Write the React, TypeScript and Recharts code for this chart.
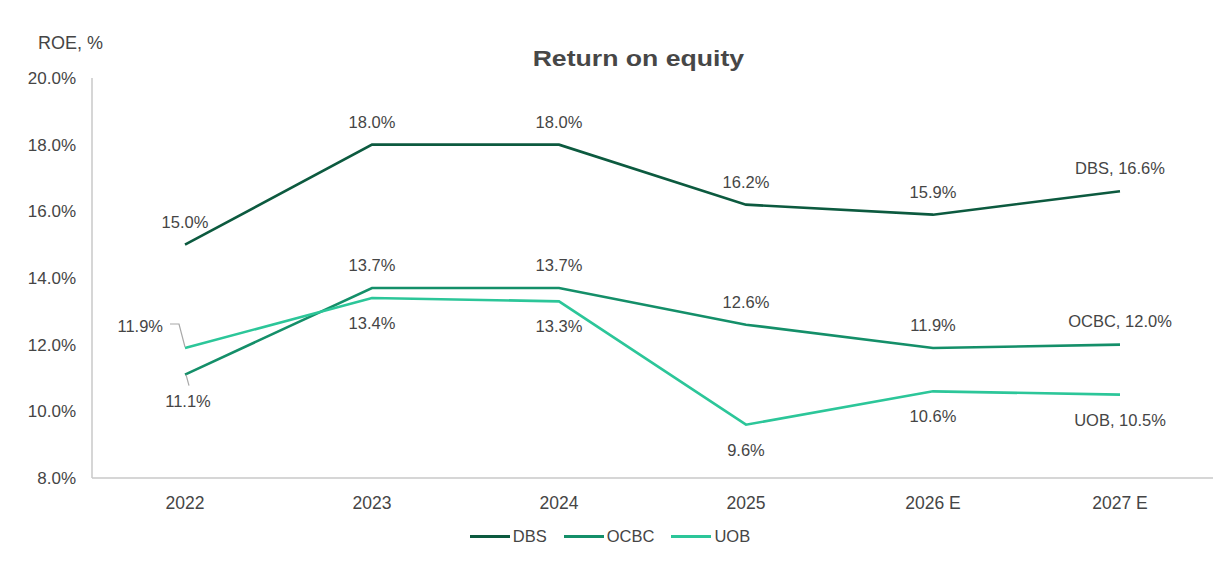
import React from 'react';
import { LineChart, Line, XAxis, YAxis, LabelList } from 'recharts';

const categories = ['2022', '2023', '2024', '2025', '2026 E', '2027 E'];
const dbsValues = [15.0, 18.0, 18.0, 16.2, 15.9, 16.6];
const ocbcValues = [11.1, 13.7, 13.7, 12.6, 11.9, 12.0];
const uobValues = [11.9, 13.4, 13.3, 9.6, 10.6, 10.5];
const yTicks = [8, 10, 12, 14, 16, 18, 20];
const seriesNames = ['DBS', 'OCBC', 'UOB'];

const data = categories.map((c, i) => ({
  year: c,
  DBS: dbsValues[i],
  OCBC: ocbcValues[i],
  UOB: uobValues[i],
}));

const COLORS: Record<string, string> = {
  DBS: '#0c5a3f',
  OCBC: '#148f69',
  UOB: '#2cc699',
};
const FONT = '"Liberation Sans", Arial, Helvetica, sans-serif';
const TEXT = '#454545';
const AXIS = '#c8c8c8';

type Placement = {
  dx: number;
  dy: number;
  anchor?: 'start' | 'middle' | 'end';
  leader?: [number, number][];
};

const above: Placement = { dx: 0, dy: -23 };
const below: Placement = { dx: 0, dy: 25 };

const placements: Record<string, Placement[]> = {
  DBS: [above, above, above, above, above, above],
  OCBC: [
    { dx: 3, dy: 26, leader: [[1, 0], [4, 11]] },
    above,
    above,
    above,
    above,
    { dx: 0, dy: -24 },
  ],
  UOB: [
    { dx: -22, dy: -22, anchor: 'end', leader: [[0, -1], [-6, -24], [-15, -24]] },
    below,
    below,
    below,
    below,
    below,
  ],
};

const makeLabel = (name: string) => (props: any) => {
  const { value, index } = props;
  const x = props.x ?? props.viewBox?.x;
  const y = props.y ?? props.viewBox?.y;
  if (x == null || y == null || value == null) return null;
  const p = placements[name][index];
  const last = index === categories.length - 1;
  const txt = last ? `${name}, ${Number(value).toFixed(1)}%` : `${Number(value).toFixed(1)}%`;
  return (
    <g>
      {p.leader && (
        <polyline
          points={p.leader.map(([a, b]) => `${x + a},${y + b}`).join(' ')}
          fill="none"
          stroke="#a8a8a8"
          strokeWidth={1.2}
        />
      )}
      <text
        x={x + p.dx}
        y={y + p.dy}
        textAnchor={p.anchor ?? 'middle'}
        dominantBaseline="central"
        fontFamily={FONT}
        fontSize={16.5}
        fill={TEXT}
      >
        {txt}
      </text>
    </g>
  );
};

export default function App() {
  return (
    <div style={{ position: 'absolute', left: 0, top: 0, width: 1218, height: 568, background: '#fff', fontFamily: FONT }}>
      <LineChart
        width={1218}
        height={568}
        data={data}
        margin={{ top: 78, right: 5, bottom: 60, left: 32 }}
      >
        <XAxis
          dataKey="year"
          padding={{ left: 93, right: 93 }}
          tickLine={false}
          tickSize={0}
          tickMargin={19}
          axisLine={{ stroke: AXIS, strokeWidth: 1.5 }}
          tick={{ fontFamily: FONT, fontSize: 17.5, fill: TEXT }}
          interval={0}
        />
        <YAxis
          width={60}
          domain={[8, 20]}
          ticks={yTicks}
          type="number"
          allowDataOverflow
          tickFormatter={(v: number) => `${v.toFixed(1)}%`}
          tickLine={false}
          tickSize={0}
          tickMargin={16}
          axisLine={{ stroke: AXIS, strokeWidth: 1.5 }}
          tick={{ fontFamily: FONT, fontSize: 17, fill: TEXT }}
        />
        {seriesNames.map((name) => (
          <Line
            key={name}
            type="linear"
            dataKey={name}
            stroke={COLORS[name]}
            strokeWidth={2.6}
            dot={false}
            activeDot={false}
            isAnimationActive={false}
          >
            <LabelList dataKey={name} content={makeLabel(name)} />
          </Line>
        ))}
      </LineChart>

      <div
        style={{
          position: 'absolute',
          left: 38,
          top: 32,
          fontSize: 18,
          lineHeight: '22px',
          color: TEXT,
          whiteSpace: 'nowrap',
        }}
      >
        ROE, %
      </div>

      <div
        style={{
          position: 'absolute',
          left: 0,
          width: 1276,
          top: 45,
          textAlign: 'center',
          fontSize: 22,
          lineHeight: '28px',
          fontWeight: 700,
          color: '#474747',
          whiteSpace: 'nowrap',
        }}
      >
        <span style={{ display: 'inline-block', transform: 'scaleX(1.21)' }}>Return on equity</span>
      </div>

      <div
        style={{
          position: 'absolute',
          left: 0,
          width: 1220,
          top: 525,
          height: 22,
          display: 'flex',
          justifyContent: 'center',
          alignItems: 'center',
          gap: 17,
        }}
      >
        {seriesNames.map((name) => (
          <div key={name} style={{ display: 'flex', alignItems: 'center', gap: 3 }}>
            <div style={{ width: 40, height: 3, background: COLORS[name] }} />
            <span style={{ fontSize: 16.5, lineHeight: '22px', color: TEXT }}>{name}</span>
          </div>
        ))}
      </div>
    </div>
  );
}
